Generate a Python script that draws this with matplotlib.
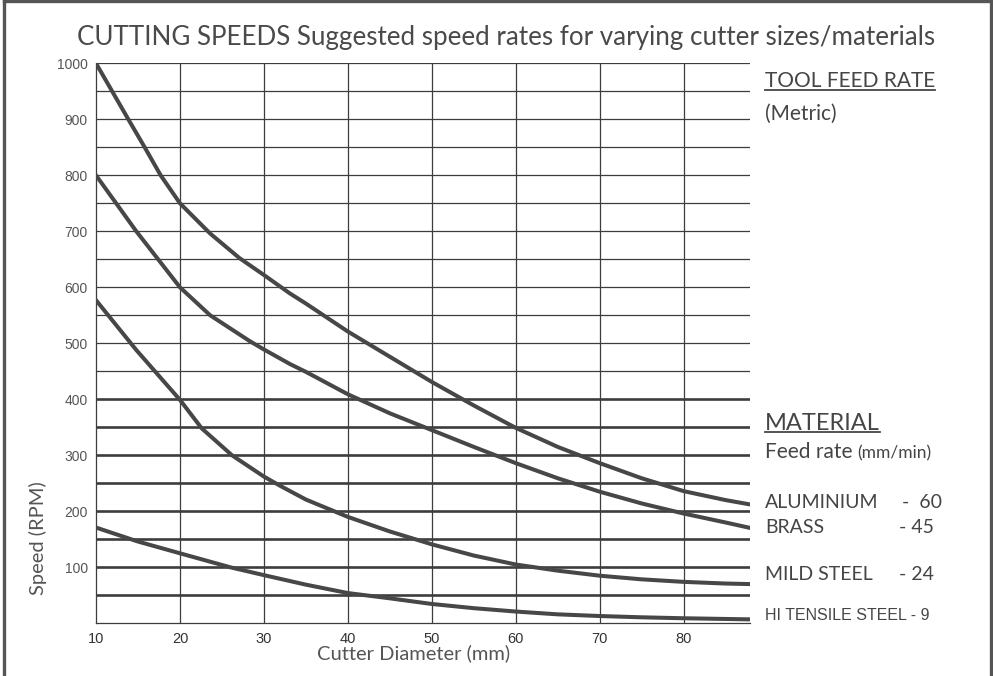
import matplotlib
matplotlib.use("Agg")
import matplotlib.pyplot as plt
from matplotlib.lines import Line2D

# curve readings (cutter diameter mm -> speed rpm)
alu_x = [10, 13.85, 15.8, 17.7, 20, 23.6, 27.1, 30, 33.1, 35, 40, 45, 50, 55, 60, 65, 70, 75, 80, 85, 88]
alu_y = [1000, 900, 850, 800, 750, 696, 652, 622, 589, 571, 521, 476, 431, 389, 349, 315, 286, 259, 236, 220, 212]
brass_x = [10, 14.8, 20, 23.6, 28.3, 30, 33.1, 35, 40, 45, 50, 55, 60, 65, 70, 75, 80, 85, 88]
brass_y = [800, 700, 600, 550, 504, 489, 463, 449, 409, 375, 345, 315, 286, 259, 235, 214, 196, 180, 170]
mild_x = [10, 14.8, 20, 22.6, 26.2, 30, 32, 35, 40, 45, 50, 55, 60, 65, 70, 75, 80, 85, 88]
mild_y = [577, 488, 399, 348, 300, 262, 245, 221, 190, 164, 141, 121, 105, 94, 85, 78.5, 74, 71, 70]
hi_x = [10, 15, 20, 26, 30, 35, 40, 45, 50, 55, 60, 65, 70, 75, 80, 88]
hi_y = [171, 146, 125, 100, 86, 69, 54, 44.6, 34.5, 27, 21, 16, 13, 10.7, 9, 7]

x_ticks = [10, 20, 30, 40, 50, 60, 70, 80]
y_ticks = [100, 200, 300, 400, 500, 600, 700, 800, 900, 1000]
grid_y = list(range(50, 1001, 50))

materials = ["ALUMINIUM", "BRASS", "MILD STEEL"]
feed_rates = ["-  60", "- 45", "- 24"]

W, H = 993, 676
INK = "#3d3d3d"
TXT = "#454545"
SANS = ["Lato", "DejaVu Sans"]
NARROW = ["Liberation Sans Narrow", "Liberation Sans", "DejaVu Sans"]

fig = plt.figure(figsize=(W / 100, H / 100), dpi=100)
ax = fig.add_axes([96 / W, 1 - 623.3 / H, (750 - 96) / W, 560 / H])
ax.set_xlim(10, 87.9)
ax.set_ylim(0, 1000)

# lower half of the grid is ruled heavier
for v in grid_y:
    ax.axhline(v, color=INK, lw=1.9 if v <= 400 else 0.9, zorder=1)
for v in x_ticks[1:]:
    ax.axvline(v, color=INK, lw=0.9, zorder=1)

for xs, ys in [(alu_x, alu_y), (brass_x, brass_y), (mild_x, mild_y), (hi_x, hi_y)]:
    ax.plot(xs, ys, color="#474747", lw=2.9, solid_joinstyle="round", zorder=3)

for s in ("top", "right"):
    ax.spines[s].set_visible(False)
for s in ("left", "bottom"):
    ax.spines[s].set_color(INK)
    ax.spines[s].set_linewidth(0.9)

ax.set_xticks(x_ticks)
ax.set_yticks(y_ticks)
ax.tick_params(length=0)
ax.tick_params(axis="x", pad=6)
ax.tick_params(axis="y", pad=6)
for lab in ax.get_xticklabels():
    lab.set_family(NARROW)
    lab.set_fontsize(10.5)
    lab.set_color("#333333")
for lab in ax.get_yticklabels():
    lab.set_family(NARROW)
    lab.set_fontsize(10)
    lab.set_color("#555555")

ax.set_xlabel("Cutter Diameter (mm)", family=SANS, fontsize=14.5, color="#555555")
ax.xaxis.set_label_coords((414 - 96) / 654, -(659 - 623.3) / 560)
ax.xaxis.label.set_va("baseline")
ax.set_ylabel("Speed (RPM)", family=SANS, fontsize=14.5, color="#555555")
ax.yaxis.set_label_coords(-(96 - 47) / 654, (623.3 - 538) / 560)


def ftext(x, y, s, **kw):
    kw.setdefault("family", SANS)
    kw.setdefault("color", TXT)
    kw.setdefault("va", "baseline")
    return fig.text(x / W, 1 - y / H, s, **kw)


ftext(506, 45, "CUTTING SPEEDS Suggested speed rates for varying cutter sizes/materials",
      fontsize=18.7, ha="center", color="#4a4a4a")
t_tool = ftext(765, 87, "TOOL FEED RATE", fontsize=15)
ftext(765, 119.5, "(Metric)", fontsize=15)
t_mat = ftext(765, 430, "MATERIAL", fontsize=17)
t_feed = ftext(765, 458.3, "Feed rate", fontsize=15)

mat_y = [508.3, 533.3, 580]
rate_x = [902, 899, 899]
for name, rate, yy, rx in zip(materials, feed_rates, mat_y, rate_x):
    ftext(765, yy, name, fontsize=14)
    ftext(rx, yy, rate, fontsize=14)
ftext(765, 620, "HI TENSILE STEEL - 9", fontsize=11.5, family=NARROW)

fig.canvas.draw()
r = fig.canvas.get_renderer()
bb = t_feed.get_window_extent(r)
ftext(bb.x1 + 5, 458.3, "(mm/min)", fontsize=12.5)

for t, uy in [(t_tool, 89.5), (t_mat, 432.3)]:
    b = t.get_window_extent(r)
    fig.add_artist(Line2D([b.x0 / W, b.x1 / W], [1 - uy / H] * 2,
                          transform=fig.transFigure, color=TXT, lw=1.3))

# frame round the figure (open at the bottom)
frame = dict(transform=fig.transFigure, color="#555555", lw=2.4)
fig.add_artist(Line2D([4 / W, 4 / W], [0, 1 - 1.2 / H], **frame))
fig.add_artist(Line2D([990.5 / W, 990.5 / W], [0, 1 - 1.2 / H], **frame))
fig.add_artist(Line2D([4 / W, 990.5 / W], [1 - 1.2 / H] * 2, **frame))

fig.savefig("out.png", dpi=100)
